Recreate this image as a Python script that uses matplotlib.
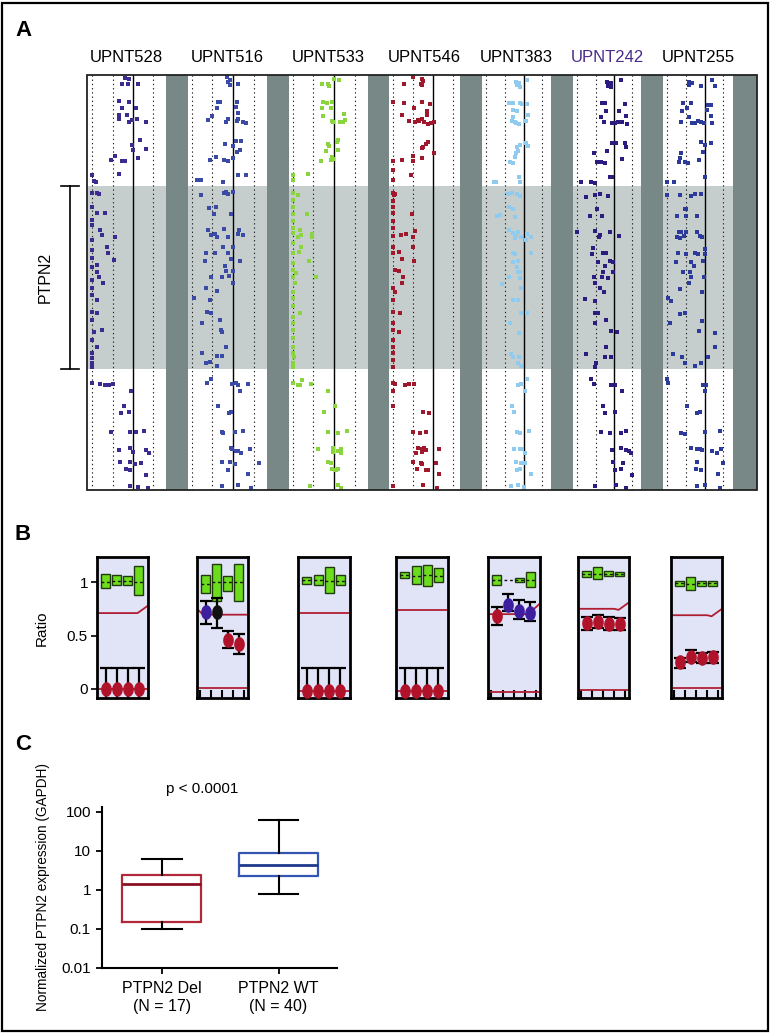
import numpy as np
import matplotlib
matplotlib.use('Agg')
import matplotlib.pyplot as plt
import matplotlib.transforms as mtransforms
from matplotlib.patches import Rectangle
from matplotlib.lines import Line2D
from matplotlib.ticker import NullLocator

plt.rcParams['font.family'] = ['Liberation Sans', 'DejaVu Sans']

W, H = 771, 1034

# ---------------- panel A data: (log2 ratio, position) per probe ----------------
# position runs 0 (top of window) .. 415 (bottom), PTPN2 spans 111..294
samples = ['UPNT528', 'UPNT516', 'UPNT533', 'UPNT546', 'UPNT383', 'UPNT242', 'UPNT255']
sample_colors = ['#3c2b8e', '#3a4aa5', '#8ad43e', '#a0182c', '#8fcbee', '#2c1c80', '#2c3a9c']
label_colors = ['black', 'black', 'black', 'black', 'black', '#4a2a8c', 'black']
ptpn2_start, ptpn2_end = 111, 294
window = 415

upnt528 = [(-0.38, 3), (-0.21, 4), (-0.54, 9), (-0.25, 9), (0.25, 9), (-0.70, 26), (-0.21, 27),
           (-0.54, 33), (0.15, 33), (-0.70, 40), (-0.30, 40), (-0.70, 44), (-0.21, 47), (-0.05, 45),
           (0.20, 44), (0.62, 47), (-0.05, 70), (0.0, 75), (0.36, 65), (0.25, 83), (0.64, 74),
           (-0.87, 81), (-1.07, 85), (-0.54, 86), (-0.38, 86), (-0.70, 99), (-2.02, 100), (-1.93, 106),
           (-1.82, 107),
           (-2.02, 118), (-1.77, 118), (-1.66, 119), (-2.02, 132), (-1.77, 138), (-1.36, 138), (-2.02, 145),
           (-2.02, 150), (-1.61, 155), (-1.52, 160), (-0.87, 162), (-2.02, 165), (-1.28, 172), (-1.23, 178),
           (-0.95, 185), (-2.02, 175), (-2.02, 183), (-2.02, 192), (-1.77, 190), (-1.69, 202), (-1.77, 197),
           (-2.02, 205), (-1.49, 208), (-2.02, 213), (-2.02, 220), (-1.77, 225), (-2.02, 237), (-1.77, 238),
           (-2.02, 245), (-1.52, 255), (-1.93, 257), (-2.02, 265), (-1.77, 272), (-2.02, 278), (-2.02, 283),
           (-2.02, 288), (-2.02, 292),
           (-2.02, 308), (-1.61, 309), (-1.39, 310), (-1.20, 310), (-1.0, 309), (-0.10, 316), (-0.46, 331),
           (-0.59, 338), (-0.21, 337), (-1.08, 357), (-0.13, 357), (0.16, 357), (0.52, 356), (-0.70, 375),
           (-0.13, 373), (0.0, 377), (0.62, 375), (0.77, 378), (-0.62, 387), (-0.16, 387), (0.11, 389),
           (0.39, 388), (-0.33, 394), (-0.13, 395), (0.66, 400), (-0.16, 411), (0.25, 412), (0.74, 413)]

upnt516 = [(-0.31, 2), (-0.16, 5), (-0.27, 7), (-0.16, 10), (0.26, 9), (-0.71, 27), (-0.65, 27),
           (-0.76, 33), (0.21, 27), (0.16, 32), (0.26, 38), (-1.0, 41), (-1.21, 45), (-0.35, 47),
           (-0.27, 44), (0.18, 46), (0.24, 44), (0.5, 47), (0.65, 48), (-0.39, 69), (0.13, 66), (0.40, 66),
           (0.02, 71), (0.32, 75), (0.21, 77), (-0.84, 82), (-1.11, 85), (-0.44, 85), (-0.27, 86),
           (0.02, 83), (0.24, 100), (0.65, 100), (-1.77, 105), (-1.56, 105), (-0.47, 107),
           (-0.44, 118), (-0.35, 117), (-0.23, 119), (0.0, 117), (-1.56, 120), (-1.16, 133), (-0.81, 132),
           (-0.95, 139), (-0.08, 139), (-1.21, 155), (-0.44, 154), (-1.05, 160), (-0.87, 159), (-0.76, 162),
           (-0.24, 162), (0.24, 159), (0.48, 160), (0.29, 155), (-0.48, 172), (0.0, 172), (-0.24, 178),
           (-1.32, 178), (-0.89, 178), (-1.37, 186), (-0.08, 184), (0.32, 186), (-0.40, 191), (-0.35, 196),
           (0.0, 196), (-1.08, 202), (-0.52, 202), (-0.19, 201), (0.02, 208), (-1.32, 213), (-0.79, 216),
           (-1.92, 223), (-1.13, 225), (-1.27, 237), (-1.08, 238), (-1.53, 248), (-0.63, 245), (-0.60, 255),
           (-0.52, 257), (-0.35, 272), (-1.53, 278), (-0.76, 281), (-0.56, 281), (-1.32, 288), (-1.13, 287),
           (-0.79, 291),
           (-1.08, 304), (-1.27, 308), (-0.06, 309), (0.13, 308), (0.24, 310), (0.73, 309), (0.32, 316),
           (-0.71, 331), (-0.19, 338), (-0.08, 337), (-0.55, 357), (-0.48, 358), (0.08, 357), (0.50, 356),
           (-0.08, 373), (-0.03, 374), (0.13, 376), (0.24, 376), (0.40, 378), (0.82, 374), (-0.55, 387),
           (-0.16, 387), (-0.27, 395), (0.08, 389), (1.26, 388), (0.73, 399), (-0.56, 411), (0.24, 410),
           (0.89, 413)]

upnt533 = [(0.02, 4), (0.26, 5), (-0.6, 9), (-0.31, 9), (-0.24, 11), (-0.52, 27), (-0.35, 28),
           (-0.11, 27), (-0.15, 33), (-0.6, 33), (-0.52, 41), (-0.11, 46), (-0.03, 47), (0.29, 47),
           (0.5, 39), (0.53, 45), (0.42, 47), (-0.31, 69), (-0.23, 71), (0.21, 65), (0.13, 67), (-0.40, 76),
           (0.18, 75), (-0.11, 82), (-0.06, 84), (-0.63, 86), (-0.16, 85), (-1.24, 99), (-1.97, 100),
           (-1.97, 105),
           (-1.97, 118), (-1.73, 120), (-1.97, 125), (-1.97, 132), (-1.97, 139), (-1.29, 139), (-1.97, 146),
           (-1.97, 153), (-1.97, 158), (-1.65, 155), (-1.6, 160), (-1.73, 162), (-1.05, 159), (-1.05, 162),
           (-1.97, 168), (-1.6, 172), (-1.68, 177), (-1.97, 178), (-1.21, 186), (-1.97, 188), (-1.97, 195),
           (-1.85, 198), (-0.87, 202), (-1.97, 202), (-1.89, 208), (-1.97, 217), (-1.97, 223), (-1.97, 231),
           (-1.65, 238), (-1.97, 242), (-1.97, 248), (-1.97, 255), (-1.97, 263), (-1.97, 272), (-1.97, 278),
           (-1.92, 282), (-1.97, 288), (-1.97, 292),
           (-1.97, 308), (-1.73, 310), (-1.56, 305), (-1.65, 310), (-1.13, 309), (-0.27, 316), (0.05, 331),
           (-0.47, 337), (-0.27, 357), (0.18, 358), (0.65, 356), (-0.76, 374), (-0.06, 373), (0.18, 376),
           (0.34, 374), (-0.03, 377), (0.32, 378), (-0.31, 387), (-0.16, 388), (-0.11, 394), (0.10, 395),
           (0.18, 394), (-1.16, 411), (0.18, 410), (0.32, 413)]

upnt546 = [(-1.03, 2), (-0.58, 4), (-0.53, 6), (-0.62, 9), (-0.55, 10), (-1.45, 9), (-2.0, 27),
           (-1.47, 28), (-0.95, 33), (-0.58, 27), (-0.17, 29), (-0.33, 36), (-1.55, 40), (-1.22, 46),
           (-0.92, 47), (-0.78, 45), (-0.7, 46), (-0.55, 44), (-0.45, 47), (-0.25, 49), (-0.12, 48),
           (0.05, 47), (-0.33, 40), (-0.5, 72), (-0.38, 69), (-0.25, 67), (0.05, 78), (-0.55, 73),
           (-0.58, 83), (-2.0, 86), (-1.55, 85), (-1.0, 86), (-1.0, 81), (-1.13, 100), (-2.0, 95),
           (-2.0, 105),
           (-2.0, 118), (-1.95, 120), (-1.88, 119), (-2.0, 126), (-2.0, 132), (-2.0, 138), (-1.05, 139),
           (-2.0, 146), (-2.0, 153), (-2.0, 161), (-1.62, 160), (-1.33, 159), (-0.92, 156), (-1.0, 162),
           (-2.0, 172), (-1.7, 177), (-2.0, 178), (-1.0, 172), (-0.95, 186), (-1.55, 184), (-1.88, 195),
           (-1.7, 196), (-1.5, 202), (-1.55, 208), (-2.0, 213), (-1.88, 217), (-2.0, 225), (-2.0, 237),
           (-1.67, 238), (-2.0, 248), (-2.0, 255), (-1.7, 257), (-2.0, 265), (-2.0, 272), (-2.0, 278),
           (-2.0, 285), (-2.0, 292),
           (-2.0, 308), (-1.92, 309), (-1.38, 310), (-1.22, 309), (-0.95, 309), (-2.0, 316), (-2.0, 331),
           (-0.53, 337), (-0.22, 338), (-1.0, 357), (-0.67, 358), (-0.38, 357), (-0.75, 373), (-0.58, 374),
           (-0.45, 373), (-0.38, 375), (-0.55, 377), (0.28, 374), (-0.87, 378), (-1.0, 387), (-0.62, 388),
           (-0.55, 389), (0.12, 388), (-0.8, 394), (-0.38, 395), (-0.25, 395), (0.28, 399), (-2.0, 411),
           (-0.5, 410), (0.17, 413)]

upnt383 = [(-0.39, 7), (-0.27, 8), (-0.34, 10), (-0.21, 12), (0.20, 5), (-0.79, 28), (-0.57, 28),
           (-0.18, 28), (-0.09, 29), (0.20, 29), (-0.57, 35), (-0.34, 36), (0.23, 40), (-0.57, 42),
           (-0.63, 46), (-0.48, 47), (-0.39, 48), (-0.27, 49), (0.05, 46), (0.14, 46), (-0.21, 70),
           (-0.34, 72), (-0.30, 76), (-0.39, 78), (-0.48, 82), (-0.71, 87), (-0.57, 88), (0.11, 68),
           (0.23, 71), (-0.25, 102), (-0.18, 107), (-1.59, 107), (-1.46, 107),
           (-0.84, 119), (-0.63, 118), (-0.34, 119), (-0.21, 121), (-1.29, 140), (-1.43, 141), (-0.80, 132),
           (-0.57, 134), (-0.48, 142), (-0.80, 155), (-0.57, 158), (-0.30, 157), (-0.39, 161), (-0.45, 163),
           (-0.13, 162), (0.18, 159), (0.38, 162), (0.14, 165), (0.41, 178), (-0.57, 178), (-0.45, 179),
           (-0.57, 187), (-0.30, 186), (-0.34, 192), (-0.30, 197), (-0.18, 197), (-0.79, 202), (-0.18, 203),
           (-1.16, 209), (-0.13, 213), (-0.30, 225), (-0.57, 225), (-0.16, 238), (0.20, 238), (-0.75, 248),
           (-0.27, 258), (-0.66, 279), (-0.57, 282), (-0.27, 282), (-0.30, 288), (-0.16, 291),
           (-0.30, 310), (-0.13, 309), (0.18, 304), (0.09, 316), (-0.63, 331), (-0.52, 337), (-0.34, 357),
           (-0.21, 358), (0.27, 356), (-0.52, 374), (-0.18, 374), (-0.09, 374), (0.05, 378), (-0.39, 387),
           (-0.13, 388), (0.05, 388), (-0.34, 395), (-0.21, 394), (0.41, 399), (-0.66, 411), (-0.30, 410),
           (0.0, 412)]

upnt242 = [(-0.36, 7), (-0.15, 8), (-0.18, 12), (-0.33, 11), (0.36, 5), (-0.65, 28), (-0.47, 28),
           (-0.42, 36), (-0.69, 42), (-0.55, 47), (-0.09, 48), (0.04, 48), (0.22, 47), (0.45, 47),
           (0.62, 29), (0.67, 41), (0.73, 49), (0.25, 36), (-0.36, 76), (-0.11, 68), (0.13, 68), (0.58, 68),
           (0.64, 72), (-0.91, 87), (-0.73, 87), (-0.51, 88), (-1.09, 78), (0.44, 84), (-0.24, 102),
           (-0.11, 102), (-1.78, 107), (-1.24, 107), (-1.02, 108),
           (-1.51, 122), (-1.02, 120), (-0.78, 119), (-0.33, 121), (-0.93, 134), (-0.65, 141), (-1.33, 141),
           (-2.0, 157), (-1.05, 156), (-0.78, 160), (-0.24, 157), (0.25, 161), (-0.84, 162), (-1.15, 173),
           (-1.2, 179), (-0.6, 178), (-0.42, 178), (-0.24, 186), (-0.05, 187), (-0.87, 187), (-0.51, 191),
           (-0.6, 197), (-0.05, 197), (-1.09, 202), (-0.65, 202), (-0.33, 203), (-1.02, 208), (-0.78, 213),
           (-0.55, 217), (-1.6, 224), (-1.05, 226), (-1.02, 238), (-0.87, 238), (-0.42, 245), (-1.05, 248),
           (-0.15, 256), (0.16, 257), (-0.45, 272), (-1.51, 279), (-0.51, 282), (-0.15, 282), (-0.96, 288),
           (-1.02, 292),
           (-1.24, 304), (-1.09, 309), (-0.15, 310), (0.04, 310), (0.44, 316), (-0.6, 331), (-0.47, 338),
           (0.07, 337), (-0.69, 357), (-0.2, 358), (0.4, 358), (0.67, 356), (-0.09, 375), (0.36, 373),
           (0.64, 375), (0.85, 376), (0.95, 378), (-0.05, 387), (0.49, 388), (0.07, 395), (0.36, 394),
           (0.98, 400), (-1.02, 411), (0.09, 410), (0.67, 413)]

upnt255 = [(-0.86, 7), (-0.68, 8), (-0.86, 10), (-0.21, 11), (0.41, 5), (0.54, 11), (-1.16, 28),
           (-0.75, 28), (-0.93, 33), (-1.21, 36), (-0.86, 42), (-1.29, 47), (-0.68, 48), (-0.54, 48),
           (-0.36, 46), (-0.21, 47), (-0.04, 48), (0.18, 30), (0.32, 30), (0.14, 35), (0.36, 41), (0.41, 48),
           (-0.18, 67), (0.32, 68), (0.0, 70), (-0.09, 77), (-1.25, 78), (-1.34, 83), (-1.07, 87),
           (-1.38, 87), (-0.89, 88), (-0.32, 85), (0.0, 102), (-2.0, 107), (-1.64, 107),
           (-2.0, 120), (-1.34, 120), (-0.75, 121), (-0.54, 119), (-0.21, 119), (-0.98, 134), (-1.46, 141),
           (-0.98, 141), (-1.07, 134), (-0.39, 141), (-1.39, 157), (-1.25, 157), (-1.11, 161), (-1.46, 162),
           (-1.34, 163), (-0.98, 157), (-0.39, 157), (-0.27, 161), (-0.14, 162), (0.04, 174), (0.0, 179),
           (-1.43, 178), (-0.98, 179), (-0.54, 178), (-0.36, 179), (-0.75, 187), (-0.09, 186), (-1.52, 187),
           (-0.57, 191), (-1.16, 197), (-0.77, 197), (-0.71, 202), (-0.04, 202), (-0.86, 208), (-1.34, 214),
           (-0.14, 217), (-1.96, 223), (-1.82, 226), (-1.34, 239), (-1.04, 238), (-1.88, 248), (-0.14, 246),
           (-0.3, 256), (0.57, 258), (-1.7, 279), (-1.21, 282), (0.18, 282), (0.54, 272), (-1.04, 288),
           (-0.54, 291), (-0.21, 288),
           (-2.0, 304), (-1.96, 308), (-0.09, 310), (0.09, 310), (0.0, 316), (-0.93, 331), (-0.39, 338),
           (-0.27, 337), (-1.29, 358), (-1.04, 359), (0.0, 357), (0.8, 356), (-0.71, 373), (-0.41, 374),
           (-0.27, 374), (-0.14, 375), (0.39, 376), (0.86, 374), (0.63, 378), (-0.41, 387), (0.98, 388),
           (-0.45, 394), (-0.21, 395), (0.71, 399), (-0.41, 411), (0.0, 410), (0.84, 413)]

sample_points = [upnt528, upnt516, upnt533, upnt546, upnt383, upnt242, upnt255]

# ---------------- panel B data (4 probes per sample) ----------------
b_box_lo = [[0.947, 0.972, 0.972, 0.88], [0.90, 0.82, 0.92, 0.82], [0.98, 0.97, 0.90, 0.97],
            [1.04, 0.98, 0.965, 1.0], [0.97, 1.02, 1.0, 0.955], [1.05, 1.03, 1.06, 1.06],
            [0.965, 0.93, 0.965, 0.965]]
b_box_hi = [[1.08, 1.065, 1.056, 1.15], [1.07, 1.17, 1.06, 1.17], [1.05, 1.07, 1.14, 1.07],
            [1.096, 1.15, 1.16, 1.13], [1.065, 1.02, 1.04, 1.09], [1.10, 1.14, 1.10, 1.09],
            [1.01, 1.045, 1.01, 1.01]]
b_box_mid = [[1.0, 1.01, 1.01, 1.0], [0.98, 1.0, 1.0, 1.0], [1.02, 1.02, 1.01, 1.01],
             [1.07, 1.06, 1.07, 1.06], [1.02, 1.02, 1.02, 1.02], [1.08, 1.08, 1.08, 1.075],
             [0.99, 0.98, 0.99, 0.99]]
b_dot = [[0, 0, 0, 0], [0.717, 0.72, 0.46, 0.42], [-0.015] * 4, [-0.015] * 4,
         [0.68, 0.79, 0.73, 0.71], [0.62, 0.63, 0.61, 0.61], [0.25, 0.30, 0.29, 0.30]]
b_dot_lo = [[-0.15] * 4, [0.61, 0.57, 0.38, 0.33], [-0.15] * 4, [-0.15] * 4,
            [0.60, 0.73, 0.65, 0.635], [0.55, 0.57, 0.555, 0.55], [0.20, 0.25, 0.24, 0.245]]
b_dot_hi = [[0.2] * 4, [0.82, 0.85, 0.54, 0.51], [0.2] * 4, [0.2] * 4,
            [0.77, 0.89, 0.83, 0.81], [0.67, 0.69, 0.67, 0.66], [0.29, 0.36, 0.34, 0.35]]
b_dot_kind = [['del'] * 4, ['gain', 'neutral', 'del', 'del'], ['del'] * 4, ['del'] * 4,
              ['del', 'gain', 'gain', 'gain'], ['del'] * 4, ['del'] * 4]
b_thr_x = [[0.2, 3.9, 4.85], [0.2, 0.75, 4.85], [0.2, 4.85], [0.2, 4.85],
           [0.2, 3.8, 4.85], [0.2, 3.5, 3.9, 4.85], [0.2, 3.5, 3.9, 4.85]]
b_thr_y = [[0.71, 0.71, 0.78], [0.75, 0.695, 0.695], [0.71, 0.71], [0.74, 0.74],
           [0.70, 0.70, 0.80], [0.75, 0.75, 0.74, 0.81], [0.69, 0.69, 0.68, 0.75]]
b_base = [0.0, 0.01, -0.015, -0.015, -0.03, -0.01, 0.005]
b_ticks = [False, True, False, False, True, True, True]

# ---------------- panel C data ----------------
c_groups = ['PTPN2 Del\n(N = 17)', 'PTPN2 WT\n(N = 40)']
c_med = [1.4, 4.2]
c_q1 = [0.15, 2.3]
c_q3 = [2.45, 8.6]
c_wlo = [0.1, 0.79]
c_whi = [6.2, 61]
c_box_colors = ['#b0283a', '#3456b0']
c_med_colors = ['#8a1024', '#1e3a8c']

fig = plt.figure(figsize=(W / 100, H / 100), dpi=100)


def px_axes(l, t, r, b, **kw):
    return fig.add_axes([l / W, 1 - b / H, (r - l) / W, (b - t) / H], **kw)


# outer frame
fig.add_artist(Rectangle((2 / W, 3 / H), 766 / W, 1028 / H, transform=fig.transFigure,
                         fill=False, ec='black', lw=1.6, zorder=10))

# ================= A =================
fig.text(15 / W, 1 - 30 / H, 'A', fontsize=16, fontweight='bold', va='center')

axbg = px_axes(87, 75, 757, 490)
axbg.set_facecolor('#788886')
axbg.set_xticks([])
axbg.set_yticks([])
for s in axbg.spines.values():
    s.set_visible(False)
fig.add_artist(Rectangle((87 / W, 1 - 490 / H), 670 / W, 415 / H, transform=fig.transFigure,
                         fill=False, ec='#222222', lw=1.3, zorder=10))

col_left = [87, 188, 289, 389, 482, 573, 663]
col_right = [166, 267, 368, 460, 551, 641, 733]
col_xlim = [(-2.27, 1.63), (-2.19, 1.65), (-2.18, 1.65), (-2.2, 1.33),
            (-2.23, 1.46), (-2.24, 1.48), (-2.23, 1.51)]

a_axes = []
for i, pts in enumerate(sample_points):
    ax = px_axes(col_left[i], 75, col_right[i], 490)
    ax.set_zorder(1)
    ax.set_xlim(col_xlim[i])
    ax.set_ylim(window, 0)
    ax.axhspan(ptpn2_start, ptpn2_end, color='#c6cecd', lw=0)
    for v in (-2, -1, 1):
        ax.axvline(v, color='#222222', lw=0.8, ls=(0, (1.2, 2.6)))
    ax.axvline(0, color='black', lw=1.0)
    ax.plot([p[0] for p in pts], [p[1] for p in pts], 's', ms=2.2, mew=0,
            color=sample_colors[i])
    ax.set_xticks([])
    ax.set_yticks([])
    for s in ax.spines.values():
        s.set_visible(False)
    cx = (col_left[i] + col_right[i]) / 2
    fig.text(cx / W, 1 - 58 / H, samples[i], ha='center', va='center', fontsize=12,
             color=label_colors[i])
    a_axes.append(ax)

# PTPN2 bracket on the left
tr = mtransforms.blended_transform_factory(fig.transFigure, a_axes[0].transData)
fig.add_artist(Line2D([70 / W, 70 / W], [ptpn2_start, ptpn2_end], transform=tr, color='black', lw=1.2))
for yv in (ptpn2_start, ptpn2_end):
    fig.add_artist(Line2D([61 / W, 79 / W], [yv, yv], transform=tr, color='black', lw=1.2))
fig.text(45 / W, (ptpn2_start + ptpn2_end) / 2, 'PTPN2', transform=tr, rotation=90,
         ha='center', va='center', fontsize=11.5)

# ================= B =================
fig.text(15 / W, 1 - 535 / H, 'B', fontsize=16, fontweight='bold', va='center')
b_left = [97, 197, 298, 396, 488, 578, 671]
b_right = [148, 248, 350, 448, 540, 629, 722]
dot_colors = {'del': '#b0122a', 'gain': '#3c1e9e', 'neutral': '#111111'}
t = np.linspace(0, 2 * np.pi, 60)
oval = np.column_stack([0.7 * np.cos(t), np.sin(t)])
xpos = np.arange(1, 5)

for i in range(7):
    ax = px_axes(b_left[i], 557, b_right[i], 698)
    ax.set_facecolor('#e1e3f7')
    ax.set_xlim(0.2, 4.85)
    ax.set_ylim(-0.085, 1.235)
    for s in ax.spines.values():
        s.set_linewidth(2.0)
    # copy-number boxes of the reference probes
    for x, lo, hi, mid in zip(xpos, b_box_lo[i], b_box_hi[i], b_box_mid[i]):
        if hi - lo > 0.005:
            ax.add_patch(Rectangle((x - 0.4, lo), 0.8, hi - lo, fc='#6cdc1c', ec='#1f3a0c', lw=1.0, zorder=2))
        ax.hlines(mid, x - 0.4, x + 0.4, colors='#111111', lw=1.0, linestyles=(0, (2, 2)), zorder=3)
    ax.plot(b_thr_x[i], b_thr_y[i], color='#b01e34', lw=1.3, zorder=2)
    ax.axhline(b_base[i], color='#b01e34', lw=1.3, zorder=2)
    r = np.array(b_dot[i])
    lo = np.array(b_dot_lo[i])
    hi = np.array(b_dot_hi[i])
    ax.errorbar(xpos, r, yerr=[r - lo, hi - r], fmt='none', ecolor='black', elinewidth=1.6,
                capsize=4.5, capthick=1.6, zorder=4)
    for x, v, k in zip(xpos, r, b_dot_kind[i]):
        ax.plot(x, v, marker=oval, ms=9.5, color=dot_colors[k], ls='none', zorder=5)
    if b_ticks[i]:
        ax.set_xticks(np.arange(0.5, 5, 1))
        ax.tick_params(axis='x', direction='in', length=6, width=1.5, labelbottom=False)
    else:
        ax.set_xticks([])
    if i == 0:
        ax.set_yticks([0, 0.5, 1])
        ax.set_yticklabels(['0', '0.5', '1'])
        ax.tick_params(axis='y', direction='out', length=4.5, width=1.2, labelsize=11, pad=2)
    else:
        ax.set_yticks([])
fig.text(42 / W, 1 - 628 / H, 'Ratio', rotation=90, ha='center', va='center', fontsize=11)

# ================= C =================
fig.text(15 / W, 1 - 745 / H, 'C', fontsize=16, fontweight='bold', va='center')
axc = px_axes(102, 806.7, 337, 967.7)
stats = [dict(med=m, q1=a, q3=b, whislo=lo, whishi=hi, label=g)
         for g, m, a, b, lo, hi in zip(c_groups, c_med, c_q1, c_q3, c_wlo, c_whi)]
bp = axc.bxp(stats, positions=[0, 1], widths=0.67, capwidths=0.34, showfliers=False)
for k in range(2):
    bp['boxes'][k].set_color(c_box_colors[k])
    bp['boxes'][k].set_linewidth(1.6)
    bp['medians'][k].set_color(c_med_colors[k])
    bp['medians'][k].set_linewidth(2.0)
for line in bp['whiskers'] + bp['caps']:
    line.set_color('black')
    line.set_linewidth(1.5)
axc.set_yscale('log')
axc.set_ylim(0.01, 135)
axc.set_xlim(-0.51, 1.5)
axc.set_yticks([0.01, 0.1, 1, 10, 100])
axc.set_yticklabels(['0.01', '0.1', '1', '10', '100'])
axc.yaxis.set_minor_locator(NullLocator())
axc.spines['top'].set_visible(False)
axc.spines['right'].set_visible(False)
axc.spines['left'].set_linewidth(1.5)
axc.spines['bottom'].set_linewidth(1.5)
axc.tick_params(axis='both', length=4.5, width=1.3, labelsize=11)
axc.tick_params(axis='x', labelsize=11.5, pad=5)
for lab in axc.get_xticklabels():
    lab.set_linespacing(1.25)
fig.text(201.7 / W, 1 - 789 / H, 'p < 0.0001', ha='center', va='center', fontsize=11)
fig.text(43 / W, 1 - 887 / H, 'Normalized PTPN2 expression (GAPDH)', rotation=90,
         ha='center', va='center', fontsize=9.8)

fig.savefig('out.png', dpi=100)
